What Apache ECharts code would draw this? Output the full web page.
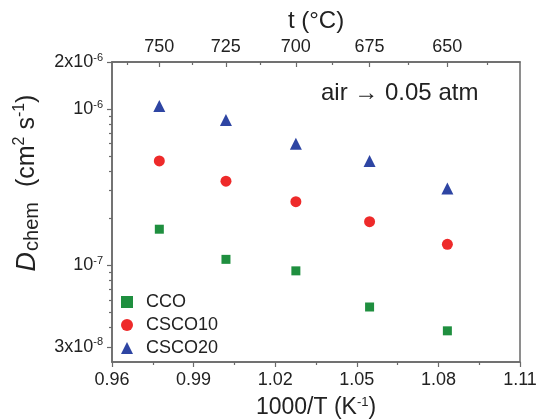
<!DOCTYPE html>
<html>
<head>
<meta charset="utf-8">
<script src="https://cdn.jsdelivr.net/npm/echarts@6/dist/echarts.min.js"></script>
<style>html,body{margin:0;padding:0;background:#fff}#c{width:536px;height:419px}</style>
</head>
<body>
<div id="c"></div>
<script>
// ---- data ----
const invT = [0.9774, 1.0019, 1.0276, 1.0547, 1.0833];          // 1000/T (K^-1)
const cco    = [1.70e-7, 1.09e-7, 9.2e-8, 5.4e-8, 3.8e-8];
const csco10 = [4.65e-7, 3.45e-7, 2.55e-7, 1.90e-7, 1.36e-7];
const csco20 = [1.045e-6, 8.5e-7, 6.0e-7, 4.65e-7, 3.1e-7];
const seriesNames = ['CCO', 'CSCO10', 'CSCO20'];
const topTempTicks = [750, 725, 700, 675, 650];
const topTempMinor = [762.5, 737.5, 712.5, 687.5, 662.5, 637.5];
const yMajorTicks = [3e-8, 1e-7, 1e-6, 2e-6];
const yMinorTicks = [4e-8,5e-8,6e-8,7e-8,8e-8,9e-8,2e-7,3e-7,4e-7,5e-7,6e-7,7e-7,8e-7,9e-7];
const annotation = 'air \u2192 0.05 atm';

const FONT = 'Liberation Sans, Arial, sans-serif';
const AX = '#6a6a6a';
const TXT = '#222';
const toInv = t => 1000 / (t + 273.15);

function pair(x, y) { return x.map((v, i) => [v, y[i]]); }

function yLabel(v) {
  const e = Math.floor(Math.log10(v) + 1e-9);
  const m = Math.round(v / Math.pow(10, e));
  return (m === 1 ? '{b|10}' : '{b|' + m + 'x10}') + '{s|' + e + '}';
}

const chart = echarts.init(document.getElementById('c'), null, {renderer: 'canvas'});
chart.setOption({
  animation: false,
  textStyle: {fontFamily: FONT},
  grid: {left: 112, right: 16, top: 62, bottom: 57, containLabel: false, outerBoundsMode: 'none',
         show: true, borderColor: AX, borderWidth: 1.5, backgroundColor: 'transparent'},
  xAxis: [
    {type: 'value', position: 'bottom', min: 0.96, max: 1.11, interval: 0.03,
     axisLine: {show: true, lineStyle: {color: AX, width: 1.5}},
     axisTick: {show: true, inside: false, length: 5, lineStyle: {color: AX, width: 1.2}},
     minorTick: {show: true, splitNumber: 2, length: 3, lineStyle: {color: AX, width: 1.2}},
     splitLine: {show: false},
     axisLabel: {fontSize: 18, color: TXT, margin: 9, fontFamily: FONT,
                 formatter: v => v.toFixed(2)},
     name: '1000/T (K{s|-1})', nameLocation: 'middle', nameGap: 34,
     nameTextStyle: {fontSize: 23, color: TXT, fontFamily: FONT, lineHeight: 24,
       rich: {s: {fontSize: 13, verticalAlign: 'top', lineHeight: 13, fontFamily: FONT, color: TXT}}}
    },
    {type: 'value', position: 'top', min: 0.96, max: 1.11,
     axisLine: {show: true, lineStyle: {color: AX, width: 1.5}},
     axisTick: {show: true, inside: true, length: 5, customValues: topTempTicks.map(toInv),
                lineStyle: {color: AX, width: 1.2}},
     splitLine: {show: false},
     axisLabel: {fontSize: 18, color: TXT, margin: 6, fontFamily: FONT,
                 customValues: topTempTicks.map(toInv),
                 formatter: v => String(Math.round(1000 / v - 273.15))},
     name: 't (\u00B0C)', nameLocation: 'middle', nameGap: 28,
     nameTextStyle: {fontSize: 24, color: TXT, fontFamily: FONT}
    },
    {type: 'value', position: 'top', min: 0.96, max: 1.11,
     axisLine: {show: false},
     axisTick: {show: true, inside: true, length: 3, customValues: topTempMinor.map(toInv),
                lineStyle: {color: AX, width: 1.2}},
     axisLabel: {show: false}, splitLine: {show: false}
    }
  ],
  yAxis: [
    {type: 'log', logBase: 10, position: 'left', min: 2.4e-8, max: 2e-6,
     axisLine: {show: true, lineStyle: {color: AX, width: 1.5}},
     axisTick: {show: true, inside: false, length: 5, customValues: yMajorTicks,
                lineStyle: {color: AX, width: 1.2}},
     splitLine: {show: false}, minorTick: {show: false},
     axisLabel: {color: TXT, margin: 9, customValues: yMajorTicks, formatter: yLabel,
       rich: {b: {fontSize: 18, fontFamily: FONT, color: TXT, lineHeight: 20},
              s: {fontSize: 11, fontFamily: FONT, color: TXT, verticalAlign: 'top', lineHeight: 11}}},
     name: '{d|D}{u|chem} (cm{p|2} s{p|-1})', nameLocation: 'middle', nameGap: 70, nameRotate: 90,
     nameTextStyle: {fontSize: 25, color: TXT, fontFamily: FONT, lineHeight: 30, padding: [0, 0, 0, 58],
       rich: {d: {fontSize: 27, fontStyle: 'italic', fontFamily: FONT, color: TXT, lineHeight: 30},
              u: {fontSize: 20, fontFamily: FONT, color: TXT, verticalAlign: 'bottom', lineHeight: 20,
                  padding: [0, 8, 0, 1]},
              p: {fontSize: 16, fontFamily: FONT, color: TXT, verticalAlign: 'top', lineHeight: 16}}}
    },
    {type: 'log', logBase: 10, position: 'left', min: 2.4e-8, max: 2e-6,
     axisLine: {show: false},
     axisTick: {show: true, inside: false, length: 3, customValues: yMinorTicks,
                lineStyle: {color: AX, width: 1.2}},
     axisLabel: {show: false}, splitLine: {show: false}
    }
  ],
  legend: {
    orient: 'vertical', left: 116, top: 288, itemGap: 5, itemWidth: 12, itemHeight: 12,
    padding: 5, data: seriesNames,
    textStyle: {fontSize: 18, color: TXT, fontFamily: FONT, padding: [0, 0, 0, 8]}
  },
  graphic: [{
    type: 'text', left: 321, top: 81,
    style: {text: annotation, fontSize: 24, fontFamily: FONT, fill: TXT}
  }],
  series: [
    {name: 'CCO', type: 'scatter', symbol: 'rect', symbolSize: 9,
     itemStyle: {color: '#1f8f3f', opacity: 1}, data: pair(invT, cco)},
    {name: 'CSCO10', type: 'scatter', symbol: 'circle', symbolSize: 11,
     itemStyle: {color: '#ee2a2a', opacity: 1}, data: pair(invT, csco10)},
    {name: 'CSCO20', type: 'scatter', symbol: 'triangle', symbolSize: 12,
     itemStyle: {color: '#2e45a3', opacity: 1}, data: pair(invT, csco20)}
  ]
});
</script>
</body>
</html>
